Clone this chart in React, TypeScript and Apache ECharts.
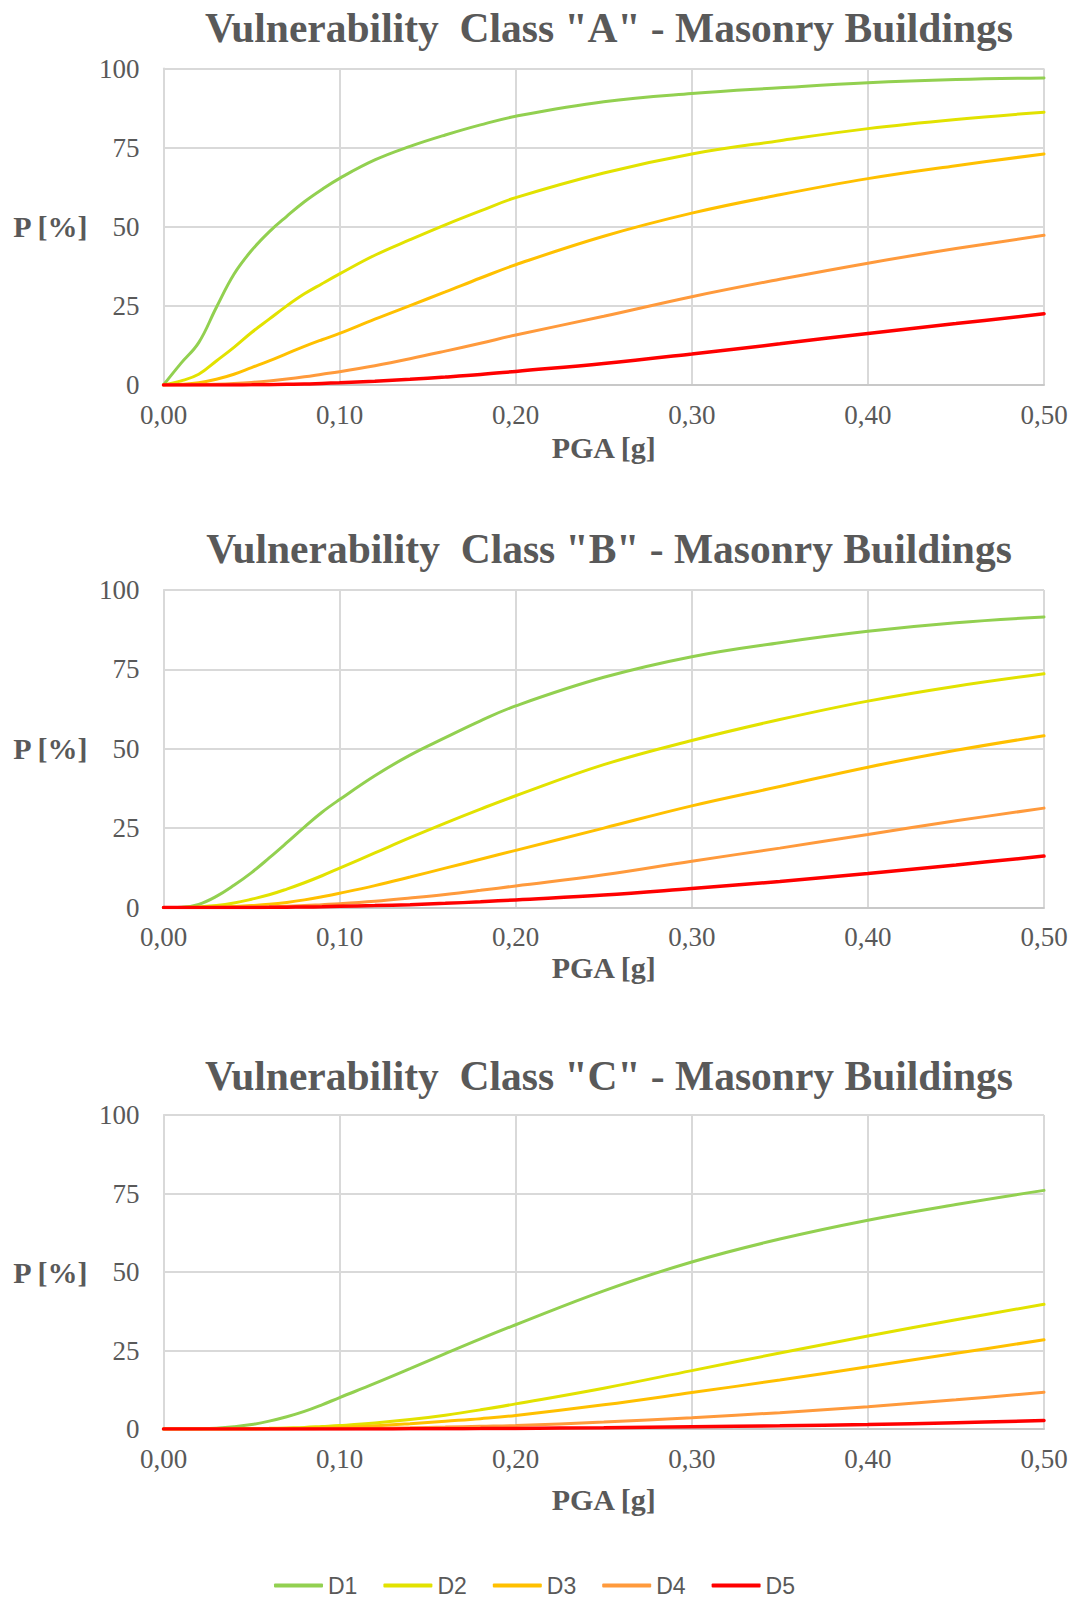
import React, { useEffect, useRef } from "react";
import * as echarts from "echarts";

const pga = [0, 0.01, 0.02, 0.03, 0.04, 0.05, 0.06, 0.07, 0.08, 0.09, 0.1, 0.12, 0.14, 0.16, 0.18, 0.2, 0.25, 0.3, 0.35, 0.4, 0.45, 0.5];
const seriesNames = ["D1", "D2", "D3", "D4", "D5"];
const seriesColors = ["#92D050", "#E2E200", "#FFC000", "#FF9A3C", "#FF0000"];
const xTicks = [0, 0.1, 0.2, 0.3, 0.4, 0.5];
const yTicks = [0, 25, 50, 75, 100];

const classA_D1 = [0, 6.9, 13.4, 24.5, 35, 42.5, 48.4, 53.3, 57.9, 61.8, 65.3, 71.1, 75.4, 79, 82.2, 84.9, 89.5, 92.1, 93.9, 95.5, 96.5, 97];
const classA_D2 = [0, 1.3, 3.4, 7.6, 11.9, 16.6, 20.8, 25, 28.8, 32, 35.1, 41, 45.9, 50.6, 55, 59.2, 67, 73, 77.2, 81, 83.9, 86.2];
const classA_D3 = [0, 0.2, 0.7, 1.8, 3.4, 5.5, 7.6, 9.9, 12.2, 14.3, 16.3, 20.8, 25.1, 29.4, 33.8, 38, 47, 54.3, 60.1, 65.2, 69.3, 73];
const classA_D4 = [0, 0, 0.05, 0.2, 0.45, 0.8, 1.3, 1.9, 2.6, 3.4, 4.2, 6.1, 8.3, 10.7, 13.2, 15.8, 21.7, 27.9, 33.4, 38.5, 43.1, 47.3];
const classA_D5 = [0, 0, 0, 0, 0.02, 0.05, 0.1, 0.2, 0.3, 0.5, 0.7, 1.2, 1.8, 2.5, 3.3, 4.3, 6.8, 9.8, 13, 16.3, 19.4, 22.5];

const classB_D1 = [0, 0.1, 1, 3.5, 7, 11, 15.6, 20.4, 25.3, 30, 34, 41.5, 48, 53.5, 58.8, 63.5, 72.5, 79, 83.4, 87, 89.7, 91.5];
const classB_D2 = [0, 0, 0.2, 0.6, 1.4, 2.6, 4, 5.8, 7.8, 10, 12.4, 17.2, 22, 26.6, 31, 35.2, 45, 52.6, 59.2, 65, 69.7, 73.6];
const classB_D3 = [0, 0, 0, 0.1, 0.3, 0.6, 1, 1.6, 2.4, 3.4, 4.5, 6.9, 9.6, 12.4, 15.2, 18, 25, 32, 38.1, 44.2, 49.5, 54.1];
const classB_D4 = [0, 0, 0, 0, 0.05, 0.1, 0.2, 0.4, 0.6, 0.9, 1.2, 2, 3, 4.1, 5.4, 6.8, 10.3, 14.6, 18.7, 23, 27.3, 31.3];
const classB_D5 = [0, 0, 0, 0, 0, 0.02, 0.05, 0.1, 0.15, 0.25, 0.4, 0.6, 0.9, 1.3, 1.8, 2.4, 3.9, 6, 8.2, 10.7, 13.4, 16.2];

const classC_D1 = [0, 0, 0.05, 0.25, 0.7, 1.4, 2.5, 3.9, 5.6, 7.7, 10, 14.5, 19.2, 24, 28.7, 33.2, 44, 53.2, 60.5, 66.5, 71.5, 76];
const classC_D2 = [0, 0, 0, 0, 0.05, 0.1, 0.2, 0.35, 0.5, 0.8, 1.1, 1.9, 3, 4.4, 6.1, 8, 13, 18.6, 24.2, 29.6, 34.8, 39.7];
const classC_D3 = [0, 0, 0, 0, 0, 0, 0.05, 0.1, 0.2, 0.35, 0.5, 1, 1.7, 2.5, 3.3, 4.3, 7.7, 11.6, 15.6, 19.8, 24.1, 28.4];
const classC_D4 = [0, 0, 0, 0, 0, 0, 0, 0, 0.02, 0.05, 0.1, 0.25, 0.4, 0.6, 0.85, 1.1, 2.2, 3.6, 5.2, 7.1, 9.3, 11.7];
const classC_D5 = [0, 0, 0, 0, 0, 0, 0, 0, 0, 0, 0, 0.02, 0.05, 0.08, 0.12, 0.18, 0.4, 0.7, 1, 1.4, 2, 2.7];

const chartTitles = [
  'Vulnerability  Class "A" - Masonry Buildings',
  'Vulnerability  Class "B" - Masonry Buildings',
  'Vulnerability  Class "C" - Masonry Buildings',
];
const classData = [
  [classA_D1, classA_D2, classA_D3, classA_D4, classA_D5],
  [classB_D1, classB_D2, classB_D3, classB_D4, classB_D5],
  [classC_D1, classC_D2, classC_D3, classC_D4, classC_D5],
];
const xAxisTitle = "PGA [g]";
const yAxisTitle = "P [%]";

const SERIF = '"Liberation Serif", "Times New Roman", serif';
const TEXT = "#595959";
const GRID_COLOR = "#D9D9D9";

// layout (pixels)
const grids = [
  { left: 163.5, top: 68.5, width: 880.5, height: 316.5, titleY: 28, nameGap: 47 },
  { left: 163.5, top: 590, width: 880.5, height: 317.5, titleY: 549, nameGap: 45 },
  { left: 163.5, top: 1115, width: 880.5, height: 314, titleY: 1076, nameGap: 55 },
];

export default function App() {
  const ref = useRef<HTMLDivElement>(null);
  useEffect(() => {
    document.body.style.margin = "0";
    if (!ref.current) return;
    const chart = echarts.init(ref.current, null, { renderer: "svg" });

    const series: any[] = [];
    classData.forEach((cls, gi) => {
      cls.forEach((vals, si) => {
        series.push({
          type: "line",
          name: seriesNames[si],
          xAxisIndex: gi,
          yAxisIndex: gi,
          data: pga.map((x, i) => [x, vals[i]]),
          smooth: 0.4,
          symbol: "none",
          showSymbol: false,
          z: 2 + si,
          lineStyle: { color: seriesColors[si], width: si === 4 ? 3.5 : 3, cap: "round" },
          itemStyle: { color: seriesColors[si] },
        });
      });
    });

    const option: any = {
      animation: false,
      backgroundColor: "#ffffff",
      grid: grids.map((g) => ({ left: g.left, top: g.top, width: g.width, height: g.height, containLabel: false })),
      xAxis: grids.map((g, gi) => ({
        type: "value",
        gridIndex: gi,
        min: xTicks[0],
        max: xTicks[xTicks.length - 1],
        interval: 0.1,
        name: xAxisTitle,
        nameLocation: "middle",
        nameGap: g.nameGap,
        nameTextStyle: { fontFamily: SERIF, fontSize: 30, fontWeight: "bold", color: TEXT },
        axisLine: { show: true, lineStyle: { color: "#C8C8C8", width: 2 } },
        axisTick: { show: false },
        axisLabel: {
          fontFamily: SERIF,
          fontSize: 27,
          color: TEXT,
          margin: 16,
          formatter: (v: number) => v.toFixed(2).replace(".", ","),
        },
        splitLine: { show: true, lineStyle: { color: GRID_COLOR, width: 2 } },
      })),
      yAxis: grids.map((g, gi) => ({
        type: "value",
        gridIndex: gi,
        min: yTicks[0],
        max: yTicks[yTicks.length - 1],
        interval: 25,
        name: yAxisTitle,
        nameLocation: "middle",
        nameRotate: 0,
        nameGap: 76,
        nameTextStyle: { fontFamily: SERIF, fontSize: 30, fontWeight: "bold", color: TEXT },
        axisLine: { show: true, lineStyle: { color: GRID_COLOR, width: 2 } },
        axisTick: { show: false },
        axisLabel: { fontFamily: SERIF, fontSize: 27, color: TEXT, margin: 24 },
        splitLine: { show: true, lineStyle: { color: GRID_COLOR, width: 2 } },
      })),
      legend: {
        data: seriesNames,
        left: 274,
        top: 1574,
        padding: 0,
        icon: "roundRect",
        itemWidth: 49,
        itemHeight: 4,
        itemGap: 26,
        textStyle: { fontFamily: '"Liberation Sans", Arial, sans-serif', fontSize: 23, color: TEXT },
      },
      graphic: grids.map((g, gi) => ({
        type: "text",
        x: 609,
        y: g.titleY,
        style: {
          text: chartTitles[gi],
          fontFamily: SERIF,
          fontSize: 41.5,
          fontWeight: "bold",
          fill: TEXT,
          textAlign: "center",
          textVerticalAlign: "middle",
        },
      })),
      series,
    };
    chart.setOption(option);
    return () => chart.dispose();
  }, []);
  return <div ref={ref} style={{ width: 1076, height: 1600, display: "block" }} />;
}
